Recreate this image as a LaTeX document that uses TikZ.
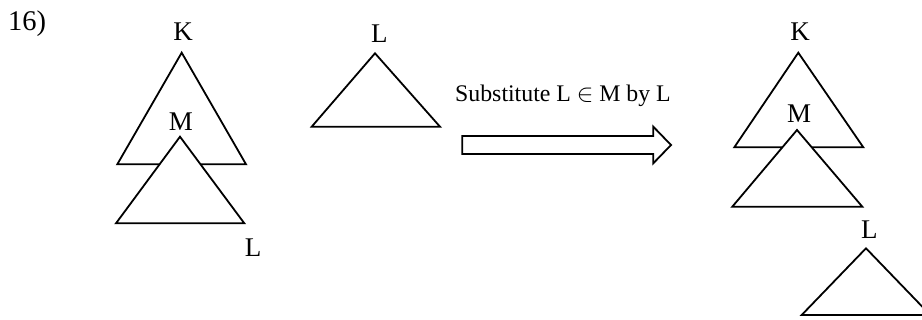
\documentclass[tikz,border=0pt]{standalone}
\usepackage{fontspec}
\setmainfont{Liberation Serif}
\begin{document}
\begin{tikzpicture}[x=1pt,y=-1pt,
  tri/.style={draw=black,line width=1.8pt,fill=white,line join=miter},
  lbl/.style={inner sep=0pt,font=\fontsize{27}{30}\selectfont},
  hollow/.style={draw=black,line width=1.8pt,fill=white}]
\useasboundingbox (0,0) rectangle (922,320);
\clip (0,0) rectangle (922,320);

% problem number
\node[lbl,anchor=base west,font=\fontsize{28.5}{32}\selectfont] (num) at (8,31) {16)};

% left tree: K with subtree M hanging from it
\draw[tri] (181.7,52.7) -- (117.3,164.3) -- (246,164.3) -- cycle;
\draw[tri] (180,136.7) -- (116,223.3) -- (244.3,223.3) -- cycle;
\node[lbl] (k1) at (183,31.2) {K};
\node[lbl] (m1) at (181,121.7) {M};
\node[lbl] (l1) at (253,247.7) {L};

% tree L to be substituted
\draw[tri] (375,53.3) -- (311.7,126.7) -- (440,126.7) -- cycle;
\node[lbl] (l2) at (379.3,33.3) {L};

% substitution arrow
\node[lbl,anchor=base,font=\fontsize{23.8}{28}\selectfont] (sub) at (563,102) {Substitute L \ensuremath{\in} M by L};
\draw[hollow] (462.3,136) -- (653.3,136) -- (653.3,126.7) -- (671,145)
  -- (653.3,163.3) -- (653.3,154) -- (462.3,154) -- cycle;

% resulting tree
\draw[tri] (798.3,52.7) -- (734.3,147.3) -- (863.3,147.3) -- cycle;
\draw[tri] (797,130) -- (732.3,206.7) -- (862.3,206.7) -- cycle;
\node[lbl] (k3) at (800,31.7) {K};
\node[lbl] (m3) at (799,113.3) {M};
\node[lbl] (l3) at (869.3,230) {L};
\draw[tri] (866,248.3) -- (801.7,315) -- (930.3,315) -- cycle;
\end{tikzpicture}
\end{document}
